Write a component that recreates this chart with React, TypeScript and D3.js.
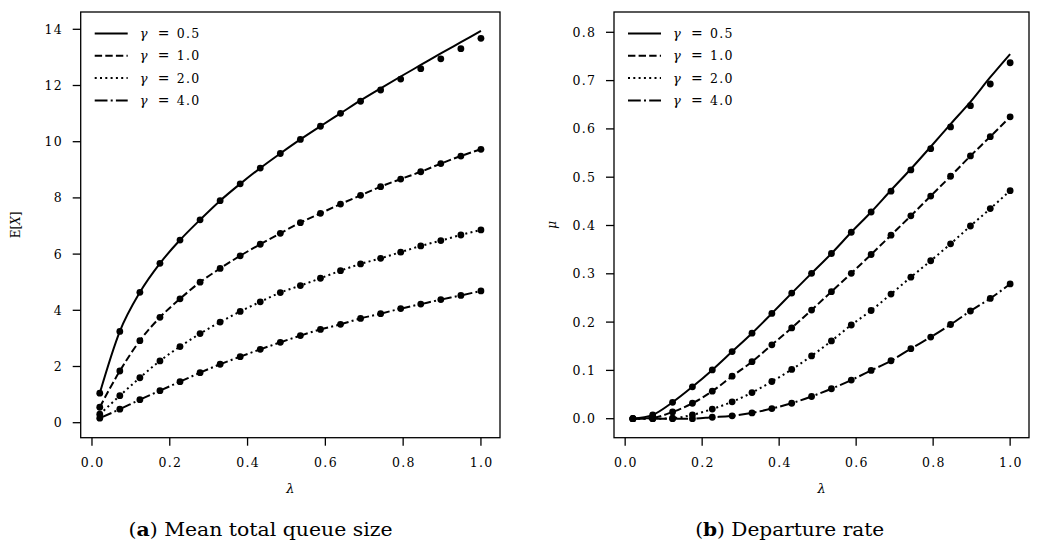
import React from "react";
import * as d3 from "d3";

const lambdas = d3.range(20).map((i) => 0.02 + (i * 0.98) / 19);
const gammaLabels = ["0.5", "1.0", "2.0", "4.0"];

// Left panel: mean total queue size E[X]
const queueTheory05 = [1.05, 3.25, 4.64, 5.67, 6.5, 7.22, 7.9, 8.5, 9.06, 9.58, 10.08, 10.55, 11.01, 11.47, 11.9, 12.32, 12.73, 13.14, 13.54, 13.94];
const queueSim05 = [1.05, 3.25, 4.64, 5.67, 6.5, 7.22, 7.9, 8.5, 9.06, 9.58, 10.08, 10.55, 11.01, 11.44, 11.84, 12.23, 12.6, 12.95, 13.31, 13.68];
const queue10 = [0.55, 1.84, 2.92, 3.75, 4.41, 5.0, 5.49, 5.94, 6.35, 6.74, 7.12, 7.45, 7.78, 8.09, 8.4, 8.67, 8.93, 9.22, 9.49, 9.73];
const queue20 = [0.3, 0.96, 1.6, 2.2, 2.71, 3.17, 3.58, 3.96, 4.3, 4.63, 4.88, 5.14, 5.41, 5.65, 5.85, 6.07, 6.29, 6.48, 6.68, 6.86];
const queue40 = [0.16, 0.48, 0.82, 1.14, 1.46, 1.78, 2.08, 2.35, 2.61, 2.86, 3.1, 3.32, 3.5, 3.71, 3.88, 4.06, 4.22, 4.38, 4.53, 4.69];

// Right panel: departure rate mu
const depTheory05 = [0, 0.008, 0.034, 0.066, 0.101, 0.139, 0.177, 0.218, 0.26, 0.301, 0.342, 0.386, 0.428, 0.473, 0.517, 0.563, 0.61, 0.656, 0.707, 0.755];
const depSim05 = [0, 0.008, 0.034, 0.066, 0.101, 0.139, 0.177, 0.218, 0.26, 0.301, 0.342, 0.386, 0.428, 0.471, 0.515, 0.559, 0.604, 0.648, 0.693, 0.737];
const dep10 = [0, 0.002, 0.014, 0.032, 0.057, 0.088, 0.118, 0.153, 0.188, 0.225, 0.263, 0.301, 0.34, 0.38, 0.42, 0.461, 0.502, 0.544, 0.584, 0.625];
const dep20 = [0, 0, 0.001, 0.008, 0.02, 0.035, 0.054, 0.077, 0.102, 0.13, 0.161, 0.194, 0.224, 0.258, 0.293, 0.327, 0.362, 0.399, 0.435, 0.472];
const dep40 = [0, 0, 0, 0, 0.003, 0.006, 0.012, 0.021, 0.032, 0.046, 0.062, 0.08, 0.1, 0.12, 0.145, 0.169, 0.195, 0.223, 0.249, 0.279];

const xTicks = [0, 0.2, 0.4, 0.6, 0.8, 1.0];
const queueTicks = [0, 2, 4, 6, 8, 10, 12, 14];
const depTicks = [0, 0.1, 0.2, 0.3, 0.4, 0.5, 0.6, 0.7, 0.8];

const LW = 2;
const dashes = ["none", `${3.7 * LW} ${1.6 * LW}`, `${1 * LW} ${1.65 * LW}`, `${6.4 * LW} ${1.6 * LW} ${1 * LW} ${1.6 * LW}`];

const TICK_FONT = "'DejaVu Serif', serif";
const LS = 1.3;

type Panel = {
  left: number;
  right: number;
  top: number;
  bottom: number;
  yDomain: [number, number];
  yTicks: number[];
  yFmt: (v: number) => string;
  theory: number[][];
  sim: number[][];
  ylabel: React.ReactNode;
  ylabelX: number;
  caption: React.ReactNode;
  captionX: number;
  captionLen: number;
};

function PanelView({ p }: { p: Panel }) {
  const x = d3.scaleLinear().domain([-0.029, 1.049]).range([p.left, p.right]);
  const y = d3.scaleLinear().domain(p.yDomain).range([p.bottom, p.top]);
  const line = d3
    .line<number>()
    .x((_, i) => x(lambdas[i]))
    .y((d) => y(d))
    .curve(d3.curveMonotoneX);
  const tickLen = 8;
  const cx = (p.left + p.right) / 2;
  const cy = (p.top + p.bottom) / 2;
  return (
    <g>
      {p.theory.map((s, k) => (
        <path key={"l" + k} d={line(s) || ""} fill="none" stroke="#000" strokeWidth={LW} strokeDasharray={dashes[k]} />
      ))}
      {p.sim.map((s, k) =>
        s.map((v, i) => <circle key={`c${k}-${i}`} cx={x(lambdas[i])} cy={y(v)} r={3.4} fill="#000" />)
      )}
      <rect x={p.left} y={p.top} width={p.right - p.left} height={p.bottom - p.top} fill="none" stroke="#000" strokeWidth={1.3} />
      {xTicks.map((t) => (
        <g key={"xt" + t}>
          <line x1={x(t)} x2={x(t)} y1={p.bottom} y2={p.bottom + tickLen} stroke="#000" strokeWidth={1.3} />
          <text x={x(t) + LS / 2} y={p.bottom + 29} textAnchor="middle" fontFamily={TICK_FONT} fontSize={12.5} letterSpacing={LS}>
            {t.toFixed(1)}
          </text>
        </g>
      ))}
      {p.yTicks.map((t) => (
        <g key={"yt" + t}>
          <line x1={p.left - tickLen} x2={p.left} y1={y(t)} y2={y(t)} stroke="#000" strokeWidth={1.3} />
          <text x={p.left - 19 + LS} y={y(t) + 4.5} textAnchor="end" fontFamily={TICK_FONT} fontSize={12.5} letterSpacing={LS}>
            {p.yFmt(t)}
          </text>
        </g>
      ))}
      <text x={cx} y={p.bottom + 55} textAnchor="middle" fontFamily={TICK_FONT} fontSize={13} fontStyle="italic">
        λ
      </text>
      <text transform={`translate(${p.ylabelX},${cy}) rotate(-90)`} textAnchor="middle" fontFamily={TICK_FONT} fontSize={12}>
        {p.ylabel}
      </text>
      {gammaLabels.map((g, k) => {
        const ly = p.top + 21.5 + k * 22.3;
        return (
          <g key={"lg" + k}>
            <line x1={p.left + 14} x2={p.left + 47} y1={ly} y2={ly} stroke="#000" strokeWidth={LW} strokeDasharray={dashes[k]} />
            <text x={p.left + 59} y={ly + 4.5} fontFamily={TICK_FONT} fontSize={13} fontStyle="italic">
              γ
            </text>
            <text x={p.left + 77} y={ly + 4.5} fontFamily={TICK_FONT} fontSize={14}>
              =
            </text>
            <text x={p.left + 96} y={ly + 4.5} fontFamily={TICK_FONT} fontSize={12.5} letterSpacing={LS}>
              {g}
            </text>
          </g>
        );
      })}
      <text
        x={p.captionX - p.captionLen / 2}
        y={536}
        fontFamily="'DejaVu Serif', serif"
        fontSize={19}
        textLength={p.captionLen}
        lengthAdjust="spacingAndGlyphs"
      >
        {p.caption}
      </text>
    </g>
  );
}

export default function App() {
  const left: Panel = {
    left: 80.7,
    right: 500,
    top: 12,
    bottom: 437.7,
    yDomain: [-(437.7 - 422.7) / 28.1, (422.7 - 12) / 28.1],
    yTicks: queueTicks,
    yFmt: (v) => String(v),
    theory: [queueTheory05, queue10, queue20, queue40],
    sim: [queueSim05, queue10, queue20, queue40],
    ylabel: (
      <>
        E[<tspan fontStyle="italic">X</tspan>]
      </>
    ),
    ylabelX: 20,
    caption: (
      <>
        (<tspan fontWeight="bold">a</tspan>) Mean total queue size
      </>
    ),
    captionX: 260.5,
    captionLen: 264,
  };
  const right: Panel = {
    left: 614,
    right: 1029,
    top: 12,
    bottom: 437.7,
    yDomain: [-(437.7 - 418.7) / 483, (418.7 - 12) / 483],
    yTicks: depTicks,
    yFmt: (v) => v.toFixed(1),
    theory: [depTheory05, dep10, dep20, dep40],
    sim: [depSim05, dep10, dep20, dep40],
    ylabel: <tspan fontStyle="italic">μ</tspan>,
    ylabelX: 556,
    caption: (
      <>
        (<tspan fontWeight="bold">b</tspan>) Departure rate
      </>
    ),
    captionX: 789.7,
    captionLen: 189,
  };
  return (
    <svg width={1037} height={545} style={{ position: "absolute", left: 0, top: 0, background: "#fff" }}>
      <rect width={1037} height={545} fill="#fff" />
      <PanelView p={left} />
      <PanelView p={right} />
    </svg>
  );
}
